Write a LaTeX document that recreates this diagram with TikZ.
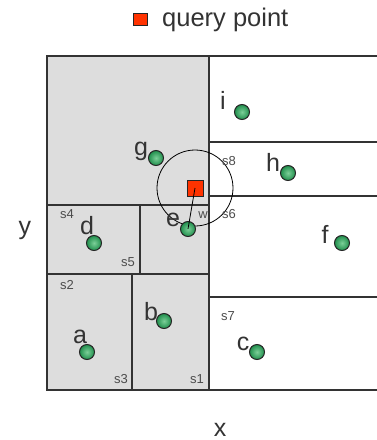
\documentclass[tikz,border=0pt]{standalone}
\usepackage{fontspec}
\setmainfont{Liberation Sans}
\begin{document}
\begin{tikzpicture}[x=1pt,y=-1pt,
  region/.style={draw=black!80,line width=1.2pt},
  pt/.style={circle,minimum size=15pt,inner sep=0pt,draw=black!85,line width=1pt,
     inner color=ptin,outer color=ptout,shading=radial},
  lbl/.style={anchor=base,inner sep=0pt,text=black!80,font=\fontsize{25}{25}\selectfont},
  slbl/.style={anchor=base,inner sep=0pt,text=black!70,font=\fontsize{13}{13}\selectfont},
  qbox/.style={draw=black!85,fill=qred,line width=0.8pt,inner sep=0pt}]
\definecolor{regiongray}{HTML}{DDDDDD}
\definecolor{ptin}{HTML}{7CCF98}
\definecolor{ptout}{HTML}{1F8E4C}
\definecolor{qred}{HTML}{FF3300}
\useasboundingbox (0,0) rectangle (377,440);
% gray region
\fill[regiongray] (47,56) rectangle (209,390);
% frame and splits
\draw[region] (377,56) -- (47,56) -- (47,390) -- (377,390);
\draw[region] (209,56) -- (209,390);
\draw[region] (47,205) -- (209,205);
\draw[region] (140,205) -- (140,274);
\draw[region] (47,274) -- (209,274);
\draw[region] (132,274) -- (132,390);
\draw[region] (209,142) -- (377,142);
\draw[region] (209,196) -- (377,196);
\draw[region] (209,297) -- (377,297);
% search circle
\node[circle,draw=black,line width=0.8pt,minimum size=76pt,inner sep=0pt] (range) at (195,188) {};
% query point
\coordinate (qc) at (195,188);
\node[qbox,minimum width=16pt,minimum height=16pt] (q) at (qc) {};
% data points
\node[pt] (pg) at (156,158) {};
\node[pt] (pi) at (242,112) {};
\node[pt] (ph) at (288,173) {};
\node[pt] (pf) at (342,243) {};
\node[pt] (pd) at (94,243) {};
\node[pt] (pe) at (188,229) {};
\node[pt] (pb) at (164,321) {};
\node[pt] (pa) at (87,352) {};
\node[pt] (pc) at (257,352) {};
\draw[line width=0.8pt,black] (qc) -- (pe.center);
% point labels
\node[lbl] (lg) at (141,155) {g};
\node[lbl] (li) at (223,109) {i};
\node[lbl] (lh) at (273,171) {h};
\node[lbl] (lf) at (325,243) {f};
\node[lbl] (ld) at (87,234) {d};
\node[lbl] (le) at (173,226) {e};
\node[lbl] (lb) at (151,320) {b};
\node[lbl] (la) at (80,343) {a};
\node[lbl] (lc) at (243,350) {c};
% region labels
\node[slbl] (s4) at (67,218) {s4};
\node[slbl] (s5) at (128,266) {s5};
\node[slbl] (s2) at (67,289) {s2};
\node[slbl] (s3) at (121,383) {s3};
\node[slbl] (s1) at (197,383) {s1};
\node[slbl] (w) at (203,218) {w};
\node[slbl] (s6) at (229,218) {s6};
\node[slbl] (s8) at (229,165) {s8};
\node[slbl] (s7) at (228,320) {s7};
% axes
\node[lbl] (ay) at (25,234) {y};
\node[lbl] (ax) at (220,436) {x};
% legend
\node[qbox,minimum width=14pt,minimum height=12pt] (legsq) at (140,19) {};
\node[lbl,anchor=base west,font=\fontsize{25.5}{25.5}\selectfont] (legtxt) at (162,26) {query point};
\end{tikzpicture}
\end{document}
